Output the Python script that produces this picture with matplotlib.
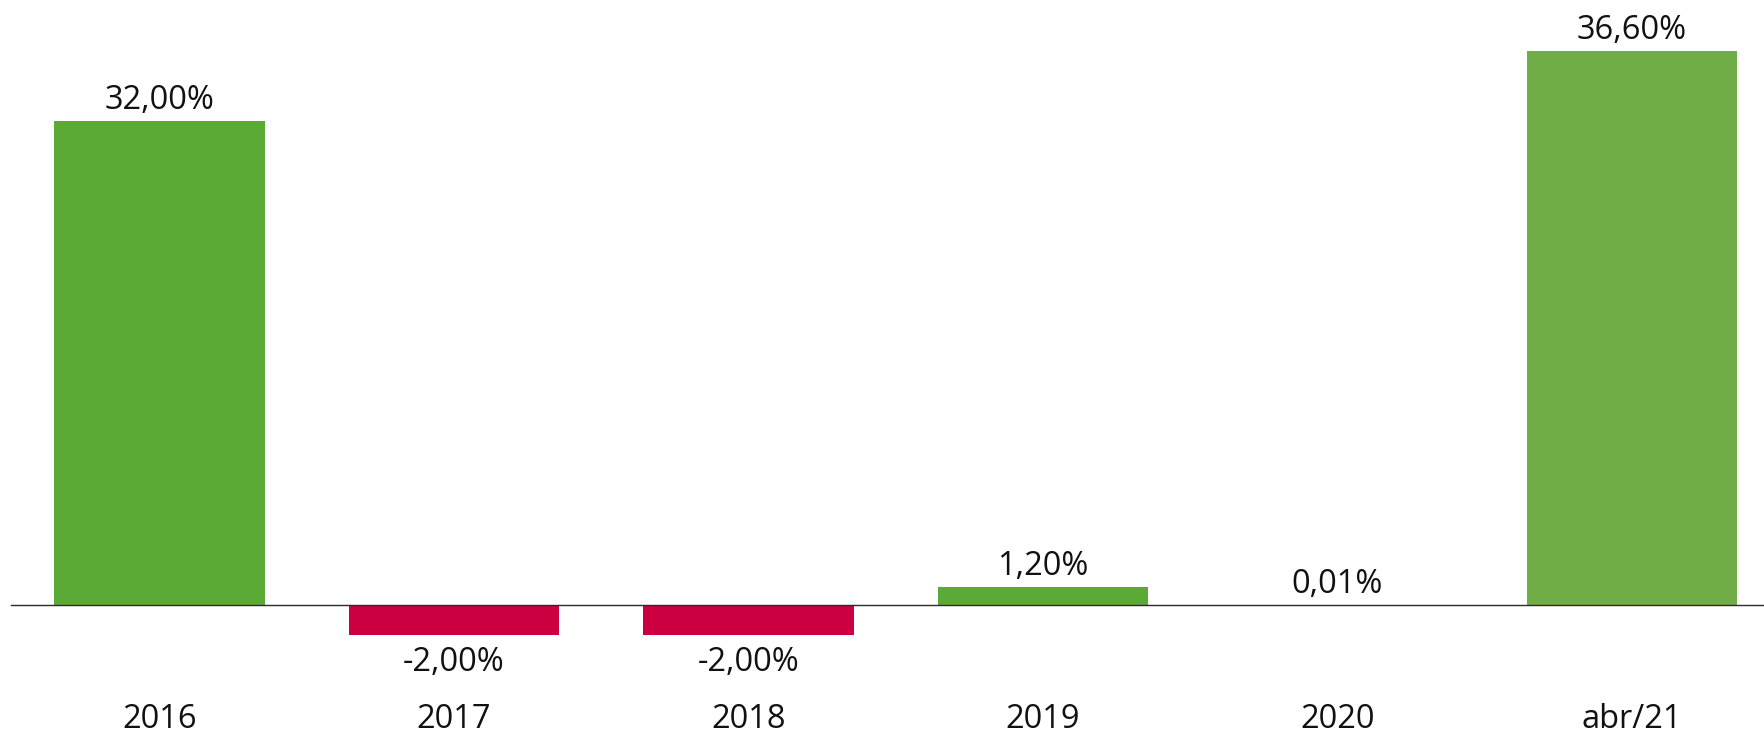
import matplotlib
matplotlib.use("Agg")
import matplotlib.pyplot as plt
import matplotlib.transforms as mtransforms

categories = ["2016", "2017", "2018", "2019", "2020", "abr/21"]
values = [32.00, -2.00, -2.00, 1.20, 0.01, 36.60]
labels = ["32,00%", "-2,00%", "-2,00%", "1,20%", "0,01%", "36,60%"]
colors = ["#5BAA35", "#CC0041", "#CC0041", "#5BAA35", "#5BAA35", "#70AD47"]

plt.rcParams['font.family'] = ['Open Sans', 'DejaVu Sans']

fig = plt.figure(figsize=(17.65, 7.33), dpi=100)
ax = fig.add_axes([0, 0, 1, 1])
x = list(range(len(categories)))
ax.bar(x, values, width=0.714, color=colors, zorder=2)
ax.set_xlim(-0.542, 5.453)
ax.set_ylim(-8.463, 40.0)
ax.axhline(0, xmin=11/1765, xmax=1, color="#2b2b2b", linewidth=1.0, zorder=3)
ax.axis("off")

for xi, v, lab in zip(x, values, labels):
    if v >= 0:
        ax.annotate(lab, (xi, v), xytext=(0, 4), textcoords="offset pixels",
                    ha="center", va="bottom", fontsize=23.5, color="#111111")
    else:
        ax.annotate(lab, (xi, v), xytext=(0, -11), textcoords="offset pixels",
                    ha="center", va="top", fontsize=23.5, color="#111111")

trans = mtransforms.blended_transform_factory(ax.transData, ax.transAxes)
for xi, c in zip(x, categories):
    ax.text(xi, 13/733, c, transform=trans, ha="center", va="center",
            fontsize=23.5, color="#111111")

fig.savefig("out.png", dpi=100)
